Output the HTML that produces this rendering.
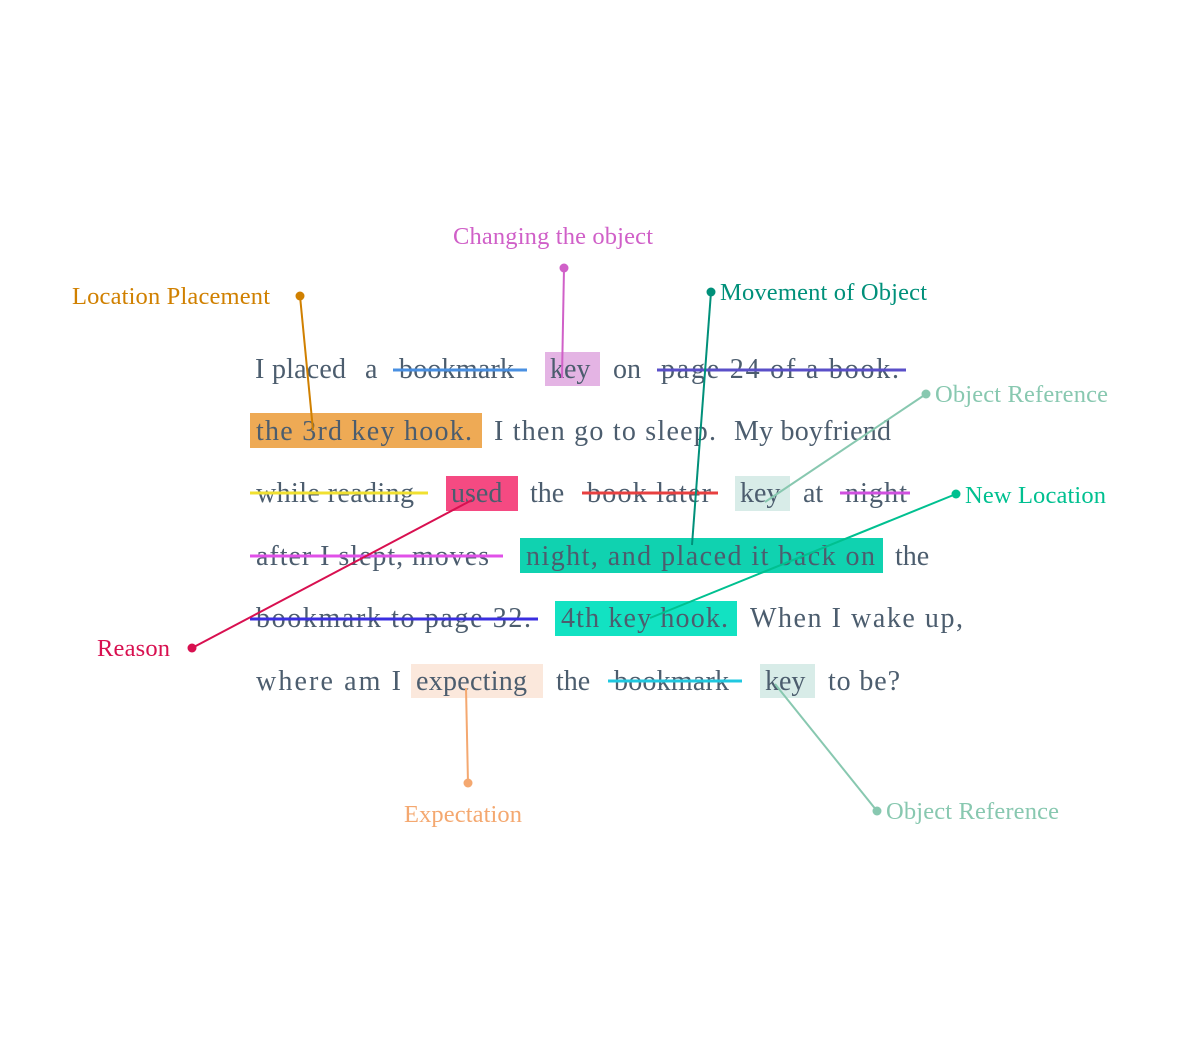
<!DOCTYPE html>
<html><head><meta charset="utf-8"><style>
html,body{margin:0;padding:0;background:#fff;width:1200px;height:1049px;overflow:hidden}
svg{display:block}
.w{font-family:"Liberation Serif",serif;font-size:28px;fill:#4c5d6e}
.l{font-family:"Liberation Serif",serif;font-size:24.5px}
</style></head><body>
<svg width="1200" height="1049" viewBox="0 0 1200 1049">
<g>
<rect x="545" y="352" width="55" height="34" fill="#e4b4e4"/>
<rect x="250" y="413" width="232" height="35" fill="#eeaa55"/>
<rect x="446" y="476" width="72" height="35" fill="#f54a82"/>
<rect x="735" y="476" width="55" height="35" fill="#d8ece8"/>
<rect x="520" y="538" width="363" height="35" fill="#10d2b0"/>
<rect x="555" y="601" width="182" height="35" fill="#12e2c2"/>
<rect x="411" y="664" width="132" height="34" fill="#fbe8dc"/>
<rect x="760" y="664" width="55" height="34" fill="#d8ece8"/>
</g>
<g>
<text class="w" x="255" y="378">I</text>
<text class="w" x="272" y="378" textLength="74">placed</text>
<text class="w" x="365" y="378">a</text>
<text class="w" x="399" y="378" textLength="115">bookmark</text>
<text class="w" x="550" y="378">key</text>
<text class="w" x="613" y="378">on</text>
<text class="w" x="661" y="378" textLength="238">page 24 of a book.</text>
<text class="w" x="256" y="440" textLength="216">the 3rd key hook.</text>
<text class="w" x="494" y="440" textLength="222">I then go to sleep.</text>
<text class="w" x="734" y="440" textLength="157">My boyfriend</text>
<text class="w" x="256" y="502" textLength="158">while reading</text>
<text class="w" x="451" y="502">used</text>
<text class="w" x="530" y="502">the</text>
<text class="w" x="587" y="502" textLength="124">book later</text>
<text class="w" x="740" y="502">key</text>
<text class="w" x="803" y="502">at</text>
<text class="w" x="845" y="502" textLength="62">night</text>
<text class="w" x="256" y="565" textLength="233">after I slept, moves</text>
<text class="w" x="526" y="565" textLength="349">night, and placed it back on</text>
<text class="w" x="895" y="565">the</text>
<text class="w" x="256" y="627" textLength="275">bookmark to page 32.</text>
<text class="w" x="561" y="627" textLength="167">4th key hook.</text>
<text class="w" x="750" y="627" textLength="213">When I wake up,</text>
<text class="w" x="256" y="690" textLength="145">where am I</text>
<text class="w" x="416" y="690" textLength="111">expecting</text>
<text class="w" x="556" y="690">the</text>
<text class="w" x="614" y="690" textLength="115">bookmark</text>
<text class="w" x="765" y="690">key</text>
<text class="w" x="828" y="690" textLength="72">to be?</text>
</g>
<g stroke-width="3">
<line x1="393" y1="370" x2="527" y2="370" stroke="#4a90e2"/>
<line x1="657" y1="370" x2="906" y2="370" stroke="#5a4fc8"/>
<line x1="250" y1="493" x2="428" y2="493" stroke="#f0e030"/>
<line x1="582" y1="493" x2="718" y2="493" stroke="#e84040"/>
<line x1="840" y1="493" x2="910" y2="493" stroke="#d050e0"/>
<line x1="250" y1="556" x2="503" y2="556" stroke="#e050e8"/>
<line x1="250" y1="619" x2="538" y2="619" stroke="#3a2ee0"/>
<line x1="608" y1="681" x2="742" y2="681" stroke="#20c8e0"/>
</g>
<g stroke-width="2">
<g>
<line x1="300" y1="296" x2="313" y2="430" stroke="#d08000"/><circle cx="300" cy="296" r="4.5" fill="#d08000"/>
<text class="l" x="72" y="304" fill="#d08000" textLength="198">Location Placement</text></g>
<g>
<line x1="564" y1="268" x2="562" y2="378" stroke="#d060c8"/><circle cx="564" cy="268" r="4.5" fill="#d060c8"/>
<text class="l" x="453" y="244" fill="#d060c8" textLength="200">Changing the object</text></g>
<g>
<line x1="711" y1="292" x2="692" y2="545" stroke="#00907a"/><circle cx="711" cy="292" r="4.5" fill="#00907a"/>
<text class="l" x="720" y="300" fill="#00907a" textLength="207">Movement of Object</text></g>
<g>
<line x1="926" y1="394" x2="765" y2="502" stroke="#88c8b0"/><circle cx="926" cy="394" r="4.5" fill="#88c8b0"/>
<text class="l" x="935" y="402" fill="#88c8b0" textLength="173">Object Reference</text></g>
<g>
<line x1="956" y1="494" x2="650" y2="618" stroke="#00c090"/><circle cx="956" cy="494" r="4.5" fill="#00c090"/>
<text class="l" x="965" y="503" fill="#00c090" textLength="141">New Location</text></g>
<g>
<line x1="192" y1="648" x2="472" y2="500" stroke="#d81050"/><circle cx="192" cy="648" r="4.5" fill="#d81050"/>
<text class="l" x="97" y="656" fill="#d81050" textLength="73">Reason</text></g>
<g>
<line x1="468" y1="783" x2="466" y2="688" stroke="#f4a870"/><circle cx="468" cy="783" r="4.5" fill="#f4a870"/>
<text class="l" x="404" y="822" fill="#f4a870" textLength="118">Expectation</text></g>
<g>
<line x1="877" y1="811" x2="775" y2="684" stroke="#88c8b0"/><circle cx="877" cy="811" r="4.5" fill="#88c8b0"/>
<text class="l" x="886" y="819" fill="#88c8b0" textLength="173">Object Reference</text></g>
</g>
</svg>
</body></html>
